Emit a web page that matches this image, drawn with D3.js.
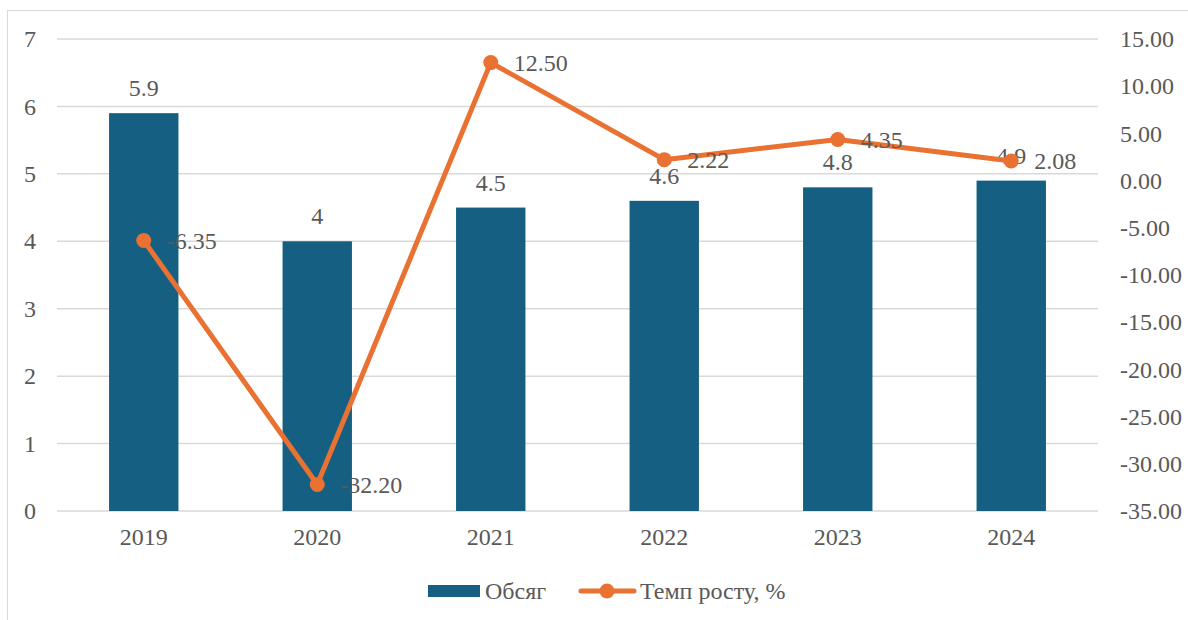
<!DOCTYPE html>
<html>
<head>
<meta charset="utf-8">
<script src="https://cdn.jsdelivr.net/npm/d3@7"></script>
<style>
  html, body { margin: 0; padding: 0; background: #fff; }
  svg { display: block; }
  text { font-family: "Liberation Serif", "Times New Roman", serif; fill: #595959; }
</style>
</head>
<body>
<svg id="chart" width="1188" height="620"></svg>
<script>
const categories = ["2019", "2020", "2021", "2022", "2023", "2024"];
const volumeValues = [5.9, 4, 4.5, 4.6, 4.8, 4.9];
const growthValues = [-6.35, -32.20, 12.50, 2.22, 4.35, 2.08];
const leftTicks = [0, 1, 2, 3, 4, 5, 6, 7];
const rightTicks = [15, 10, 5, 0, -5, -10, -15, -20, -25, -30, -35];
const seriesNames = ["Обсяг", "Темп росту, %"];

const svg = d3.select("#chart");
const W = 1188, H = 620;
const plot = { left: 57, right: 1098, top: 39, bottom: 511 };
const barColor = "#156082", lineColor = "#E97132", axisText = "#595959", labelText = "#404040", gridColor = "#d9d9d9";
const fontSize = 24;
const fmt2 = d => d3.format(".2f")(d).replace("\u2212", "-");

// outer border
svg.append("rect").attr("x", 7.5).attr("y", 10.5).attr("width", W - 7).attr("height", H - 10)
  .attr("fill", "#fff").attr("stroke", "#d9d9d9").attr("stroke-width", 1);

const x = d3.scaleBand().domain(categories).range([plot.left, plot.right]).paddingInner(0).paddingOuter(0);
const yL = d3.scaleLinear().domain([0, 7]).range([plot.bottom, plot.top]);
const yR = d3.scaleLinear().domain([-35, 15]).range([plot.bottom, plot.top]);

// gridlines
svg.append("g").selectAll("line").data(leftTicks).join("line")
  .attr("x1", plot.left).attr("x2", plot.right)
  .attr("y1", d => yL(d)).attr("y2", d => yL(d))
  .attr("stroke", gridColor).attr("stroke-width", 1.5);

function styleAxis(g) {
  g.select(".domain").remove();
  g.selectAll("text").style("font-size", fontSize + "px").attr("fill", axisText)
    .style("font-family", "'Liberation Serif', 'Times New Roman', serif");
}

// left axis
const leftAxis = d3.axisLeft(yL).tickValues(leftTicks).tickSize(0).tickPadding(21).tickFormat(d3.format("d"));
svg.append("g").attr("transform", `translate(${plot.left},0)`).call(leftAxis).call(styleAxis);

// right axis
const rightAxis = d3.axisRight(yR).tickValues(rightTicks).tickSize(0).tickPadding(22).tickFormat(fmt2);
svg.append("g").attr("transform", `translate(${plot.right},0)`).call(rightAxis).call(styleAxis);

// bottom axis
const bottomAxis = d3.axisBottom(x).tickSize(0).tickPadding(17);
svg.append("g").attr("transform", `translate(0,${plot.bottom})`).call(bottomAxis).call(styleAxis);

// bars
const barW = x.bandwidth() * 0.40;
svg.append("g").selectAll("rect").data(categories).join("rect")
  .attr("x", d => x(d) + x.bandwidth() / 2 - barW / 2)
  .attr("y", (d, i) => yL(volumeValues[i]))
  .attr("width", barW)
  .attr("height", (d, i) => yL(0) - yL(volumeValues[i]))
  .attr("fill", barColor);

// bar labels
svg.append("g").selectAll("text").data(categories).join("text")
  .attr("x", d => x(d) + x.bandwidth() / 2)
  .attr("y", (d, i) => yL(volumeValues[i]) - 17)
  .attr("text-anchor", "middle")
  .attr("fill", labelText)
  .style("font-size", fontSize + "px")
  .text((d, i) => String(volumeValues[i]));

// line
const line = d3.line().x((d, i) => x(categories[i]) + x.bandwidth() / 2).y(d => yR(d));
svg.append("path").datum(growthValues).attr("d", line)
  .attr("fill", "none").attr("stroke", lineColor).attr("stroke-width", 5)
  .attr("stroke-linejoin", "round").attr("stroke-linecap", "round");

svg.append("g").selectAll("circle").data(growthValues).join("circle")
  .attr("cx", (d, i) => x(categories[i]) + x.bandwidth() / 2)
  .attr("cy", d => yR(d))
  .attr("r", 7.5)
  .attr("fill", lineColor);

// line labels
svg.append("g").selectAll("text").data(growthValues).join("text")
  .attr("x", (d, i) => x(categories[i]) + x.bandwidth() / 2 + 23)
  .attr("y", d => yR(d) + 8)
  .attr("text-anchor", "start")
  .attr("fill", labelText)
  .style("font-size", fontSize + "px")
  .text(d => fmt2(d));

// legend
const lg = svg.append("g");
lg.append("rect").attr("x", 428).attr("y", 585).attr("width", 52).attr("height", 12).attr("fill", barColor);
lg.append("text").attr("x", 485).attr("y", 599).attr("fill", axisText).style("font-size", fontSize + "px").text(seriesNames[0]);
lg.append("line").attr("x1", 581).attr("x2", 634).attr("y1", 591).attr("y2", 591)
  .attr("stroke", lineColor).attr("stroke-width", 5).attr("stroke-linecap", "round");
lg.append("circle").attr("cx", 607).attr("cy", 591).attr("r", 7.5).attr("fill", lineColor);
lg.append("text").attr("x", 640).attr("y", 599).attr("fill", axisText).style("font-size", fontSize + "px").text(seriesNames[1]);
</script>
</body>
</html>
